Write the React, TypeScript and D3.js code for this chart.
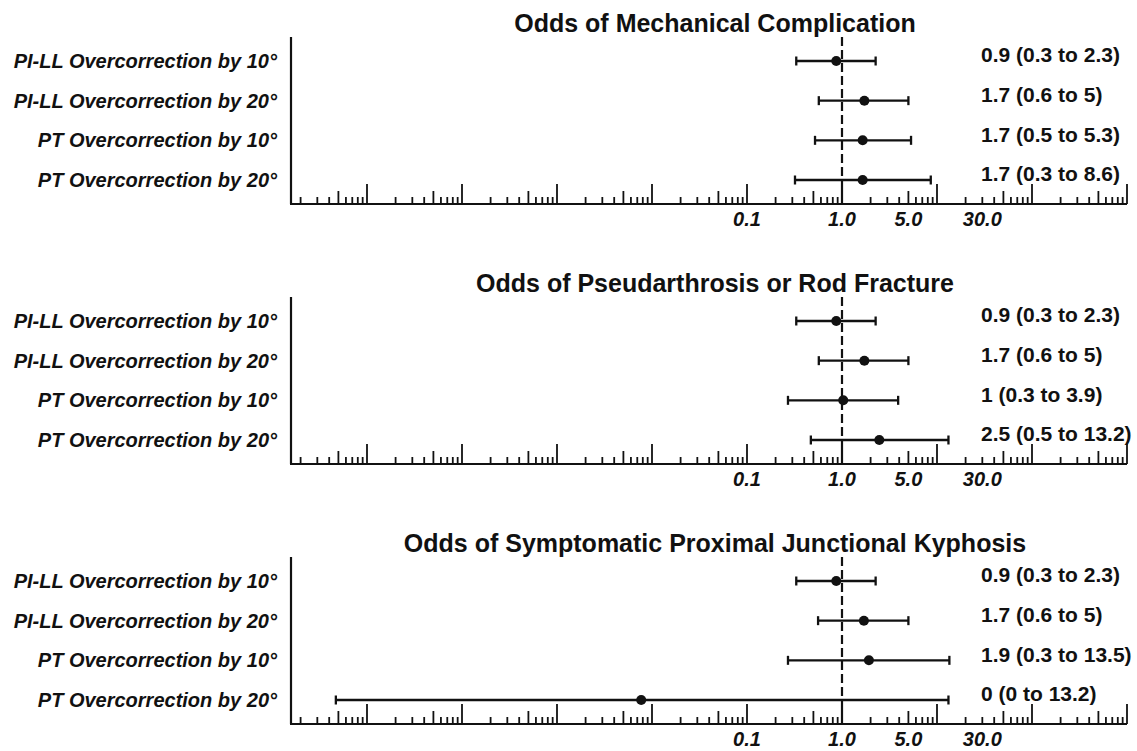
import * as d3 from "d3";
import React from "react";

const panelTitles = [
  "Odds of Mechanical Complication",
  "Odds of Pseudarthrosis or Rod Fracture",
  "Odds of Symptomatic Proximal Junctional Kyphosis",
];

const rowLabels = [
  "PI-LL Overcorrection by 10°",
  "PI-LL Overcorrection by 20°",
  "PT Overcorrection by 10°",
  "PT Overcorrection by 20°",
];

// point estimates and CI ends as they sit on the log axis
const oddsRatio = [
  [0.87, 1.72, 1.65, 1.65],
  [0.87, 1.72, 1.03, 2.47],
  [0.87, 1.7, 1.92, 0.0077],
];
const ciLower = [
  [0.33, 0.57, 0.52, 0.32],
  [0.33, 0.57, 0.27, 0.47],
  [0.33, 0.56, 0.27, 0.0000047],
];
const ciUpper = [
  [2.26, 5.0, 5.33, 8.6],
  [2.26, 5.0, 3.9, 13.2],
  [2.26, 5.0, 13.5, 13.2],
];

const valueLabels = [
  ["0.9 (0.3 to 2.3)", "1.7 (0.6 to 5)", "1.7 (0.5 to 5.3)", "1.7 (0.3 to 8.6)"],
  ["0.9 (0.3 to 2.3)", "1.7 (0.6 to 5)", "1 (0.3 to 3.9)", "2.5 (0.5 to 13.2)"],
  ["0.9 (0.3 to 2.3)", "1.7 (0.6 to 5)", "1.9 (0.3 to 13.5)", "0 (0 to 13.2)"],
];

const tickValues = [0.1, 1, 5, 30];
const tickLabels = ["0.1", "1.0", "5.0", "30.0"];

const W = 1137;
const H = 751;
const FONT = "'Liberation Sans', Arial, sans-serif";
const INK = "#111";

const x = d3.scaleLog().domain([Math.pow(10, -5.8), 1000]).range([291, 1127]);

// minor ticks 2..9 per decade, 5 a bit longer, decades longest
const axisTicks: { v: number; len: number }[] = [];
d3.range(-6, 3).forEach((e) => {
  d3.range(1, 10).forEach((k) => {
    const v = k * Math.pow(10, e);
    if (v >= x.domain()[0] && v <= 1000) {
      axisTicks.push({ v, len: k === 1 ? 20 : k === 5 ? 13 : 7 });
    }
  });
});
axisTicks.push({ v: 1000, len: 20 });

const Panel: React.FC<{ p: number }> = ({ p }) => {
  const top = 37 + p * 260;
  const axisY = top + 167;
  const y = d3
    .scaleLinear()
    .domain([0, 3])
    .range([axisY - 143, axisY - 24]);
  const lastRow = y(3);

  return (
    <g>
      <text
        x={715}
        y={top - 5}
        textAnchor="middle"
        fontFamily={FONT}
        fontWeight="bold"
        fontSize={25}
        fill={INK}
      >
        {panelTitles[p]}
      </text>

      {/* axes */}
      <line x1={x.range()[0]} x2={x.range()[0]} y1={top} y2={axisY} stroke={INK} strokeWidth={2.2} />
      <line x1={x.range()[0] - 1} x2={x.range()[1]} y1={axisY} y2={axisY} stroke={INK} strokeWidth={2.2} />
      {axisTicks.map((t, i) => (
        <line
          key={i}
          x1={x(t.v)}
          x2={x(t.v)}
          y1={axisY}
          y2={axisY - t.len}
          stroke={INK}
          strokeWidth={1.8}
        />
      ))}
      {tickValues.map((v, i) => (
        <text
          key={i}
          x={x(v)}
          y={axisY + 22}
          textAnchor="middle"
          fontFamily={FONT}
          fontWeight="bold"
          fontStyle="italic"
          fontSize={20}
          fill={INK}
        >
          {tickLabels[i]}
        </text>
      ))}

      {/* reference line at OR = 1 */}
      <line x1={x(1)} x2={x(1)} y1={top} y2={lastRow} stroke={INK} strokeWidth={2.2} strokeDasharray="9,4" />
      <line x1={x(1)} x2={x(1)} y1={lastRow} y2={axisY} stroke={INK} strokeWidth={2.2} />

      {rowLabels.map((lab, i) => (
        <text
          key={"l" + i}
          x={277}
          y={y(i)}
          dy="0.35em"
          textAnchor="end"
          fontFamily={FONT}
          fontWeight="bold"
          fontStyle="italic"
          fontSize={20}
          fill={INK}
        >
          {lab}
        </text>
      ))}

      {oddsRatio[p].map((or, i) => {
        const yy = y(i);
        const x0 = x(ciLower[p][i]);
        const x1 = x(ciUpper[p][i]);
        return (
          <g key={"r" + i}>
            <line x1={x0} x2={x1} y1={yy} y2={yy} stroke={INK} strokeWidth={2.3} />
            <line x1={x0} x2={x0} y1={yy - 4.5} y2={yy + 4.5} stroke={INK} strokeWidth={2.3} />
            <line x1={x1} x2={x1} y1={yy - 4.5} y2={yy + 4.5} stroke={INK} strokeWidth={2.3} />
            <circle cx={x(or)} cy={yy} r={5} fill={INK} />
            <text
              x={981}
              y={yy - 6}
              dy="0.35em"
              fontFamily={FONT}
              fontWeight="bold"
              fontSize={21}
              fill={INK}
            >
              {valueLabels[p][i]}
            </text>
          </g>
        );
      })}
    </g>
  );
};

export default function App() {
  React.useEffect(() => {
    document.body.style.margin = "0";
  }, []);
  return (
    <svg width={W} height={H} style={{ display: "block", background: "#fff" }}>
      {panelTitles.map((_, p) => (
        <Panel key={p} p={p} />
      ))}
    </svg>
  );
}
